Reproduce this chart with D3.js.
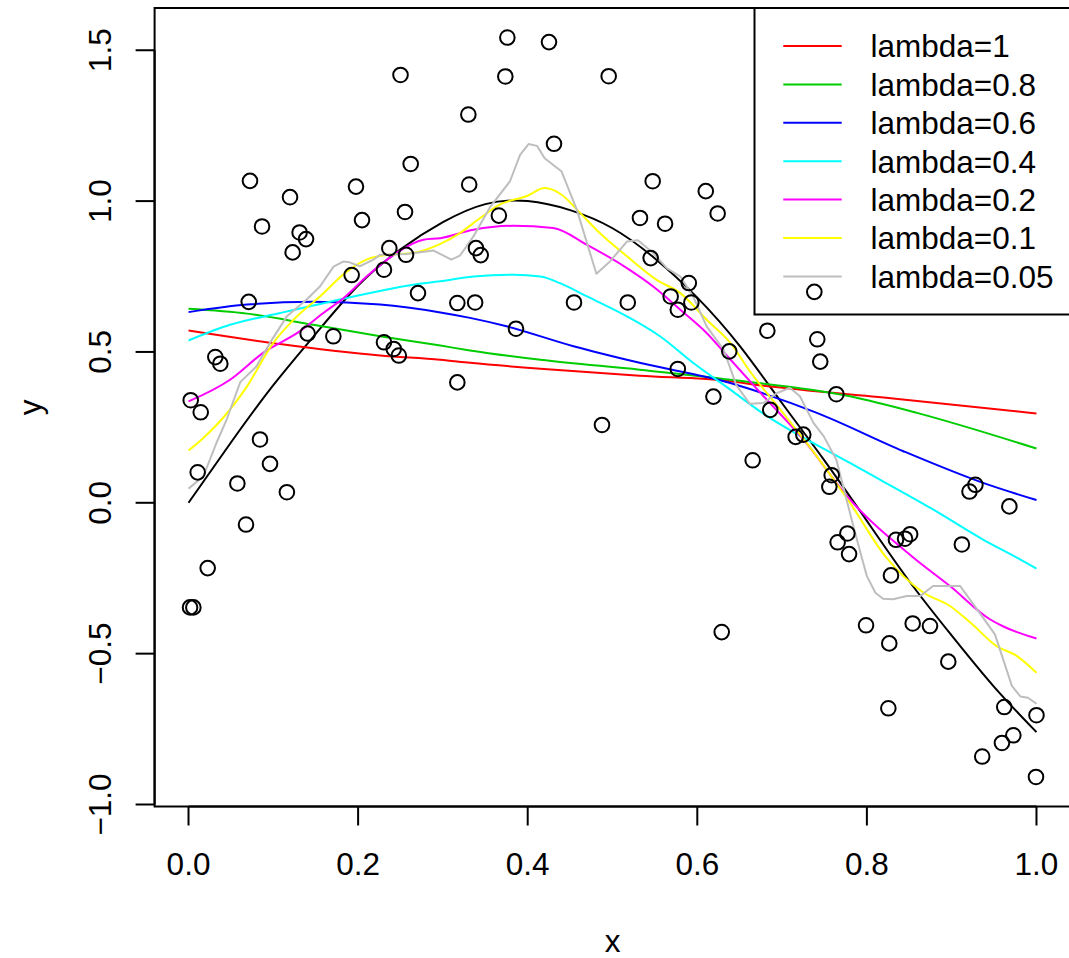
<!DOCTYPE html>
<html>
<head>
<meta charset="utf-8">
<script src="https://cdn.jsdelivr.net/npm/d3@7"></script>
<style>
  body { margin: 0; background: #fff; }
  svg text { font-family: "Liberation Sans", Arial, sans-serif; fill: #000; }
</style>
</head>
<body>
<div id="chart"></div>
<script>
// observed points (x, y)
var ptX = [0.250, 0.262, 0.0725, 0.1197, 0.1975, 0.0867, 0.131, 0.1386, 0.2046, 0.2553,
	0.1228, 0.2368, 0.2565, 0.1924, 0.2305, 0.376, 0.4251, 0.3736, 0.4955, 0.330,
	0.431, 0.331, 0.5474, 0.610, 0.624, 0.5324, 0.562, 0.366, 0.339, 0.3446,
	0.545, 0.071, 0.2706, 0.317, 0.1405, 0.1708, 0.2305, 0.242, 0.248, 0.317,
	0.0316, 0.0375, 0.0026, 0.0144, 0.0843, 0.0961, 0.0108, 0.0576, 0.116, 0.0678,
	0.338, 0.4546, 0.518, 0.590, 0.5686, 0.593, 0.577, 0.3862, 0.6377, 0.577,
	0.619, 0.4876, 0.6653, 0.6826, 0.7415, 0.745, 0.764, 0.686, 0.716, 0.725,
	0.7585, 0.7557, 0.928, 0.921, 0.968, 0.777, 0.7655, 0.779, 0.8343, 0.845,
	0.851, 0.912, 0.8284, 0.799, 0.854, 0.8744, 0.8264, 0.896, 0.8253, 0.962,
	1.0, 0.9727, 0.9593, 0.936, 0.9994, 0.0226, 0.0018, 0.0057, 0.6288, 0.738];
var ptY = [1.418, 1.123, 1.067, 1.013, 1.048, 0.916, 0.896, 0.874, 0.937, 0.964,
	0.830, 0.844, 0.822, 0.755, 0.7725, 1.542, 1.527, 1.413, 1.414, 1.287,
	1.190, 1.055, 1.066, 1.033, 0.959, 0.944, 0.925, 0.952, 0.844, 0.821,
	0.811, 0.666, 0.695, 0.662, 0.561, 0.552, 0.532, 0.510, 0.488, 0.399,
	0.483, 0.461, 0.340, 0.300, 0.210, 0.129, 0.101, 0.064, 0.035, -0.072,
	0.664, 0.664, 0.664, 0.7285, 0.684, 0.664, 0.640, 0.577, 0.502, 0.4437,
	0.352, 0.258, 0.141, 0.5705, 0.542, 0.468, 0.360, 0.308, 0.2185, 0.226,
	0.0914, 0.053, 0.0596, 0.0374, -0.012, -0.1017, -0.131, -0.170, -0.1226, -0.119,
	-0.104, -0.138, -0.2407, -0.406, -0.400, -0.4086, -0.466, -0.5265, -0.681, -0.677,
	-0.704, -0.7706, -0.796, -0.841, -0.9086, -0.2165, -0.3467, -0.3467, -0.4285, 0.699];

// true curve
var trueFit = [[0,0],[0.05,0.20],[0.1,0.39],[0.15,0.56],[0.2,0.72],[0.25,0.84],[0.3,0.93],
	[0.35,0.99],[0.4,1.0],[0.45,0.97],[0.5,0.91],[0.55,0.81],[0.6,0.68],[0.65,0.52],
	[0.7,0.33],[0.75,0.14],[0.8,-0.06],[0.85,-0.26],[0.9,-0.44],[0.95,-0.61],[1.0,-0.76]];

// smoothed fits, one per lambda
var fit_1 = [[0,0.571],[0.108,0.526],[0.226,0.488],[0.297,0.474],[0.332,0.464],[0.415,0.444],
	[0.532,0.421],[0.639,0.403],[0.662,0.394],[0.831,0.346],[1.0,0.296]];
var fit_08 = [[0,0.643],[0.069,0.627],[0.147,0.590],[0.226,0.552],[0.297,0.521],[0.332,0.505],
	[0.415,0.474],[0.532,0.441],[0.639,0.408],[0.780,0.353],[0.859,0.298],[1.0,0.180]];
var fit_06 = [[0,0.632],[0.069,0.657],[0.147,0.666],[0.226,0.657],[0.297,0.631],[0.332,0.613],
	[0.375,0.585],[0.454,0.519],[0.532,0.464],[0.639,0.397],[0.662,0.377],[0.741,0.298],
	[0.843,0.171],[0.937,0.066],[1.0,0.009]];
var fit_04 = [[0,0.538],[0.049,0.590],[0.108,0.629],[0.187,0.679],[0.265,0.723],[0.297,0.734],
	[0.336,0.750],[0.383,0.756],[0.415,0.750],[0.438,0.728],[0.470,0.684],[0.517,0.618],
	[0.556,0.552],[0.595,0.464],[0.639,0.375],[0.674,0.303],[0.780,0.132],[0.878,-0.022],
	[0.937,-0.122],[0.977,-0.182],[1.0,-0.218]];
var fit_02 = [[0,0.336],[0.049,0.408],[0.088,0.497],[0.131,0.568],[0.159,0.629],[0.183,0.679],
	[0.210,0.750],[0.242,0.822],[0.277,0.872],[0.297,0.877],[0.336,0.905],[0.383,0.918],
	[0.430,0.911],[0.470,0.855],[0.517,0.778],[0.548,0.717],[0.580,0.640],[0.611,0.563],
	[0.639,0.475],[0.674,0.366],[0.725,0.210],[0.780,0.011],[0.855,-0.182],[0.898,-0.276],
	[0.945,-0.386],[0.961,-0.410],[1.0,-0.450]];
var fit_01 = [[0,0.173],[0.0175,0.215],[0.039,0.276],[0.069,0.386],[0.100,0.530],[0.124,0.607],
	[0.155,0.684],[0.187,0.767],[0.210,0.806],[0.234,0.822],[0.265,0.828],[0.297,0.858],
	[0.320,0.894],[0.344,0.944],[0.367,0.988],[0.399,1.017],[0.420,1.043],[0.440,1.021],
	[0.462,0.960],[0.485,0.894],[0.517,0.817],[0.552,0.739],[0.580,0.695],[0.611,0.607],
	[0.639,0.530],[0.662,0.436],[0.701,0.298],[0.741,0.154],[0.780,0.0],[0.823,-0.182],
	[0.843,-0.243],[0.867,-0.298],[0.898,-0.342],[0.922,-0.397],[0.953,-0.475],
	[0.977,-0.508],[1.0,-0.563]];
var fit_005 = [[0,0.047],[0.0175,0.088],[0.033,0.199],[0.045,0.276],[0.061,0.400],[0.080,0.452],
	[0.096,0.530],[0.116,0.618],[0.139,0.673],[0.155,0.717],[0.171,0.783],[0.183,0.800],
	[0.190,0.797],[0.202,0.784],[0.218,0.806],[0.226,0.822],[0.257,0.825],[0.289,0.836],
	[0.310,0.806],[0.320,0.819],[0.336,0.883],[0.356,0.982],[0.379,1.065],[0.391,1.153],
	[0.401,1.189],[0.411,1.183],[0.420,1.142],[0.440,1.098],[0.458,0.971],[0.481,0.759],
	[0.497,0.800],[0.517,0.866],[0.530,0.870],[0.548,0.828],[0.564,0.778],[0.580,0.750],
	[0.595,0.684],[0.611,0.585],[0.631,0.508],[0.646,0.390],[0.662,0.328],[0.678,0.331],
	[0.694,0.364],[0.709,0.381],[0.721,0.353],[0.737,0.265],[0.749,0.221],[0.764,0.143],
	[0.776,0.011],[0.784,-0.077],[0.794,-0.182],[0.800,-0.243],[0.810,-0.298],[0.819,-0.318],
	[0.831,-0.320],[0.847,-0.309],[0.863,-0.309],[0.878,-0.276],[0.894,-0.276],[0.910,-0.276],
	[0.930,-0.353],[0.951,-0.436],[0.971,-0.607],[0.981,-0.642],[0.990,-0.646],[1.0,-0.666]];

var fits = [fit_1, fit_08, fit_06, fit_04, fit_02, fit_01, fit_005];
var fitLabels = ["lambda=1", "lambda=0.8", "lambda=0.6", "lambda=0.4",
	"lambda=0.2", "lambda=0.1", "lambda=0.05"];
var fitColors = ["#FF0000", "#00CD00", "#0000FF", "#00FFFF", "#FF00FF", "#FFFF00", "#BEBEBE"];

var xTicks = [0, 0.2, 0.4, 0.6, 0.8, 1.0];
var yTicks = [-1.0, -0.5, 0.0, 0.5, 1.0, 1.5];

var W = 1069, H = 958, FS = 31.5;

var svg = d3.select("#chart").append("svg")
	.attr("width", W).attr("height", H);

// R style: data range stretched by 4% each side
var xr = [0, 1];
var yr = d3.extent(ptY);
var xPad = (xr[1] - xr[0]) * 0.04, yPad = (yr[1] - yr[0]) * 0.04;
var x = d3.scaleLinear().domain([xr[0] - xPad, xr[1] + xPad]).range([154.6, 1070.4]);
var y = d3.scaleLinear().domain([yr[0] - yPad, yr[1] + yPad]).range([806.5, 8]);

var L = x.range()[0], R = x.range()[1], T = y.range()[1], B = y.range()[0];

var line = d3.line().x(function(d) { return x(d[0]); }).y(function(d) { return y(d[1]); });

// true function
svg.append("path").datum(trueFit)
	.attr("d", line.curve(d3.curveNatural))
	.attr("fill", "none").attr("stroke", "#000").attr("stroke-width", 2);

// fits
fits.forEach(function(f, i) {
	svg.append("path").datum(f)
		.attr("d", line.curve(i == 6 ? d3.curveLinear : d3.curveMonotoneX))
		.attr("fill", "none").attr("stroke", fitColors[i]).attr("stroke-width", 2)
		.attr("stroke-linejoin", "round");
});

// legend (topright)
var lg = svg.append("g");
lg.append("rect")
	.attr("x", 754.5).attr("y", T).attr("width", R - 754.5).attr("height", 314.5 - T)
	.attr("fill", "#fff").attr("stroke", "#000").attr("stroke-width", 2);
fitLabels.forEach(function(lab, i) {
	var ly = 46 + i * 38.4;
	lg.append("line").attr("x1", 783.3).attr("x2", 841.7).attr("y1", ly).attr("y2", ly)
		.attr("stroke", fitColors[i]).attr("stroke-width", 2);
	lg.append("text").attr("x", 870.5).attr("y", ly + FS * 0.36)
		.attr("font-size", FS).text(lab);
});

// points, drawn after the legend
svg.selectAll("circle.pt").data(ptX).enter().append("circle")
	.attr("class", "pt")
	.attr("cx", function(d) { return x(d); })
	.attr("cy", function(d, i) { return y(ptY[i]); })
	.attr("r", 7.3)
	.attr("fill", "none").attr("stroke", "#000").attr("stroke-width", 2);

// box
svg.append("rect").attr("x", L).attr("y", T).attr("width", R - L).attr("height", B - T)
	.attr("fill", "none").attr("stroke", "#000").attr("stroke-width", 2);

// x axis
var ax = svg.append("g");
ax.append("line").attr("x1", x(xTicks[0])).attr("x2", x(xTicks[xTicks.length - 1]))
	.attr("y1", B).attr("y2", B).attr("stroke", "#000").attr("stroke-width", 2);
xTicks.forEach(function(t) {
	ax.append("line").attr("x1", x(t)).attr("x2", x(t)).attr("y1", B).attr("y2", B + 19)
		.attr("stroke", "#000").attr("stroke-width", 2);
	ax.append("text").attr("x", x(t)).attr("y", 875).attr("text-anchor", "middle")
		.attr("font-size", FS).text(d3.format(".1f")(t));
});

// y axis
var ay = svg.append("g");
ay.append("line").attr("x1", L).attr("x2", L)
	.attr("y1", y(yTicks[0])).attr("y2", y(yTicks[yTicks.length - 1]))
	.attr("stroke", "#000").attr("stroke-width", 2);
yTicks.forEach(function(t) {
	ay.append("line").attr("x1", L - 19).attr("x2", L).attr("y1", y(t)).attr("y2", y(t))
		.attr("stroke", "#000").attr("stroke-width", 2);
	ay.append("text")
		.attr("transform", "translate(111," + y(t) + ") rotate(-90)")
		.attr("text-anchor", "middle").attr("font-size", FS)
		.text(d3.format(".1f")(t).replace("-", "\u2212"));
});

// axis titles
svg.append("text").attr("x", (L + R) / 2).attr("y", 952).attr("text-anchor", "middle")
	.attr("font-size", FS).text("x");
svg.append("text").attr("transform", "translate(41," + ((T + B) / 2) + ") rotate(-90)")
	.attr("text-anchor", "middle").attr("font-size", FS).text("y");
</script>
</body>
</html>
